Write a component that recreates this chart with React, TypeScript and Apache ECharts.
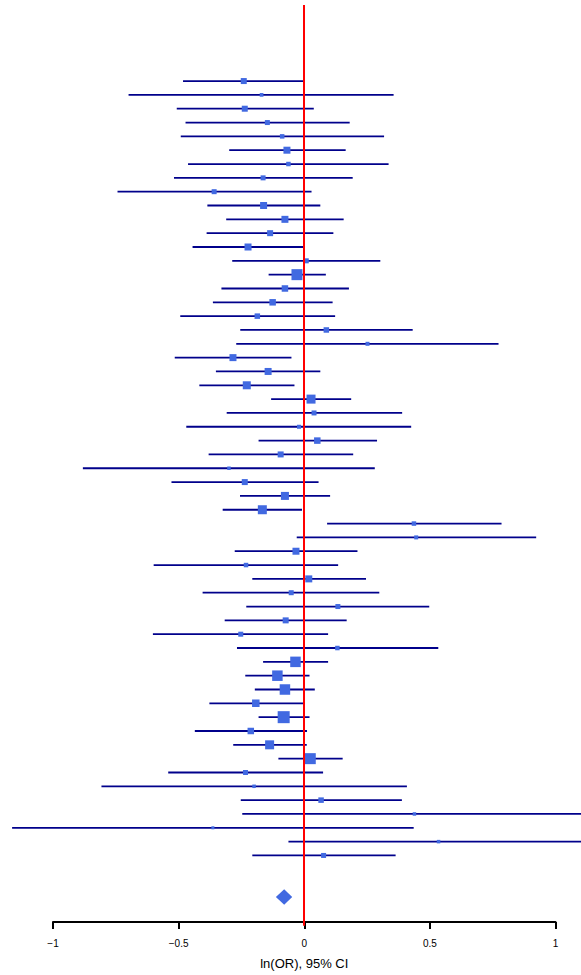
import React, { useEffect, useRef } from "react";
import * as echarts from "echarts";

// Study estimates: ln(OR) with 95% CI, top to bottom
const estimates = [
  -0.24, -0.169, -0.236, -0.146, -0.087, -0.068, -0.062, -0.163, -0.358, -0.161,
  -0.076, -0.135, -0.223, 0.009, -0.028, -0.076, -0.125, -0.186, 0.089, 0.253,
  -0.283, -0.143, -0.228, 0.028, 0.04, -0.02, 0.053, -0.093, -0.299, -0.236,
  -0.076, -0.166, 0.438, 0.447, -0.032, -0.231, 0.019, -0.051, 0.135, -0.073,
  -0.252, 0.133, -0.034, -0.106, -0.076, -0.192, -0.081, -0.212, -0.137, 0.025,
  -0.233, -0.199, 0.068, 0.44, -0.363, 0.536, 0.078,
];
const lowerCI = [
  -0.482, -0.699, -0.507, -0.472, -0.491, -0.298, -0.462, -0.518, -0.743, -0.385,
  -0.31, -0.388, -0.444, -0.286, -0.141, -0.329, -0.363, -0.493, -0.254, -0.27,
  -0.515, -0.351, -0.417, -0.131, -0.308, -0.469, -0.181, -0.38, -0.881, -0.528,
  -0.255, -0.324, 0.092, -0.029, -0.276, -0.599, -0.206, -0.404, -0.23, -0.316,
  -0.602, -0.267, -0.163, -0.234, -0.196, -0.377, -0.181, -0.435, -0.282, -0.102,
  -0.541, -0.807, -0.252, -0.246, -1.163, -0.062, -0.206,
];
const upperCI = [
  0.0, 0.357, 0.039, 0.182, 0.319, 0.166, 0.337, 0.194, 0.03, 0.065,
  0.158, 0.117, 0.0, 0.304, 0.087, 0.179, 0.114, 0.124, 0.433, 0.775,
  -0.05, 0.065, -0.038, 0.188, 0.391, 0.427, 0.291, 0.196, 0.282, 0.058,
  0.104, -0.008, 0.787, 0.925, 0.213, 0.136, 0.247, 0.3, 0.499, 0.17,
  0.096, 0.535, 0.096, 0.022, 0.043, -0.004, 0.022, 0.012, 0.011, 0.154,
  0.076, 0.41, 0.39, 1.15, 0.437, 1.15, 0.365,
];
// relative study weights (box size)
const weights = [
  6, 3.7, 6, 5, 4.5, 7, 4.5, 5, 5, 7,
  7, 6, 7, 5, 11, 6.5, 6.5, 5.5, 5.5, 4,
  7, 7, 8, 9, 5, 4, 6.5, 6, 3.5, 6,
  8, 9, 4.5, 4, 7, 4.5, 7, 5, 5, 6,
  5, 4.5, 10.5, 10.5, 10.5, 7.5, 12, 6.5, 9, 11,
  5, 3.5, 5.5, 3.5, 3, 3.5, 5,
];
// pooled estimate
const summary = { est: -0.079, lo: -0.112, hi: -0.047 };
const xTicks = [-1, -0.5, 0, 0.5, 1];
const axisTitle = "ln(OR), 95% CI";

const W = 581;
const H = 975;
const ROW_MIN = -4.5;
const ROW_MAX = 62.08;
const SUMMARY_ROW = 60;

export default function App() {
  const ref = useRef<HTMLDivElement>(null);
  useEffect(() => {
    if (!ref.current) return;
    const chart = echarts.init(ref.current, undefined, { renderer: "svg" });
    const studyData = estimates.map((e, i) => [lowerCI[i], upperCI[i], e, i + 1, weights[i]]);
    const option: any = {
      animation: false,
      backgroundColor: "#ffffff",
      grid: [
        { left: 0, right: 0, top: 5, bottom: 49.3 },
        { left: 53, right: 25.5, top: 5, bottom: 48.5 },
      ],
      xAxis: [
        { gridIndex: 0, type: "value", min: -1.2112, max: 1.1036, show: false },
        {
          gridIndex: 1,
          type: "value",
          min: xTicks[0],
          max: xTicks[xTicks.length - 1],
          interval: 0.5,
          position: "bottom",
          axisLine: { show: true, onZero: false, lineStyle: { color: "#000", width: 2 } },
          axisTick: { show: true, length: 7, lineStyle: { color: "#000", width: 2 } },
          axisLabel: {
            show: true,
            margin: 16,
            fontSize: 10,
            color: "#000",
            fontFamily: "Liberation Sans, Arial, sans-serif",
            showMinLabel: true,
            showMaxLabel: true,
            formatter: (v: number) => String(v).replace("-", "\u2212"),
          },
          splitLine: { show: false },
          name: axisTitle,
          nameLocation: "middle",
          nameGap: 35,
          nameTextStyle: {
            fontSize: 13,
            color: "#000",
            fontFamily: "Liberation Sans, Arial, sans-serif",
          },
        },
      ],
      yAxis: [
        { gridIndex: 0, type: "value", inverse: true, min: ROW_MIN, max: ROW_MAX, show: false },
        { gridIndex: 1, type: "value", min: 0, max: 1, show: false },
      ],
      series: [
        {
          type: "custom",
          xAxisIndex: 0,
          yAxisIndex: 0,
          clip: false,
          z: 2,
          data: studyData,
          renderItem: (params: any, api: any) => {
            const lo = api.value(0);
            const hi = api.value(1);
            const est = api.value(2);
            const row = api.value(3);
            const s = api.value(4);
            const p1 = api.coord([lo, row]);
            const p2 = api.coord([hi, row]);
            const pe = api.coord([est, row]);
            return {
              type: "group",
              children: [
                {
                  type: "line",
                  shape: { x1: p1[0], y1: p1[1], x2: p2[0], y2: p2[1] },
                  style: { stroke: "#00008B", lineWidth: 1.8 },
                },
                {
                  type: "rect",
                  shape: { x: pe[0] - s / 2, y: pe[1] - s / 2, width: s, height: s },
                  style: { fill: "#4169E1" },
                },
              ],
            };
          },
        },
        {
          type: "custom",
          xAxisIndex: 0,
          yAxisIndex: 0,
          z: 2,
          data: [[summary.lo, summary.est, summary.hi, SUMMARY_ROW]],
          renderItem: (params: any, api: any) => {
            const row = api.value(3);
            const l = api.coord([api.value(0), row]);
            const c = api.coord([api.value(1), row]);
            const r = api.coord([api.value(2), row]);
            const h = 7.8;
            return {
              type: "polygon",
              shape: {
                points: [
                  [l[0], l[1]],
                  [c[0], c[1] - h],
                  [r[0], r[1]],
                  [c[0], c[1] + h],
                ],
              },
              style: { fill: "#4169E1" },
            };
          },
        },
        {
          type: "line",
          xAxisIndex: 0,
          yAxisIndex: 0,
          z: 5,
          symbol: "none",
          data: [
            [0, ROW_MIN],
            [0, ROW_MAX],
          ],
          lineStyle: { color: "#FF0000", width: 2 },
        },
      ],
    };
    chart.setOption(option);
    return () => chart.dispose();
  }, []);
  return (
    <div
      ref={ref}
      style={{ position: "absolute", left: 0, top: 0, width: W, height: H }}
    />
  );
}
